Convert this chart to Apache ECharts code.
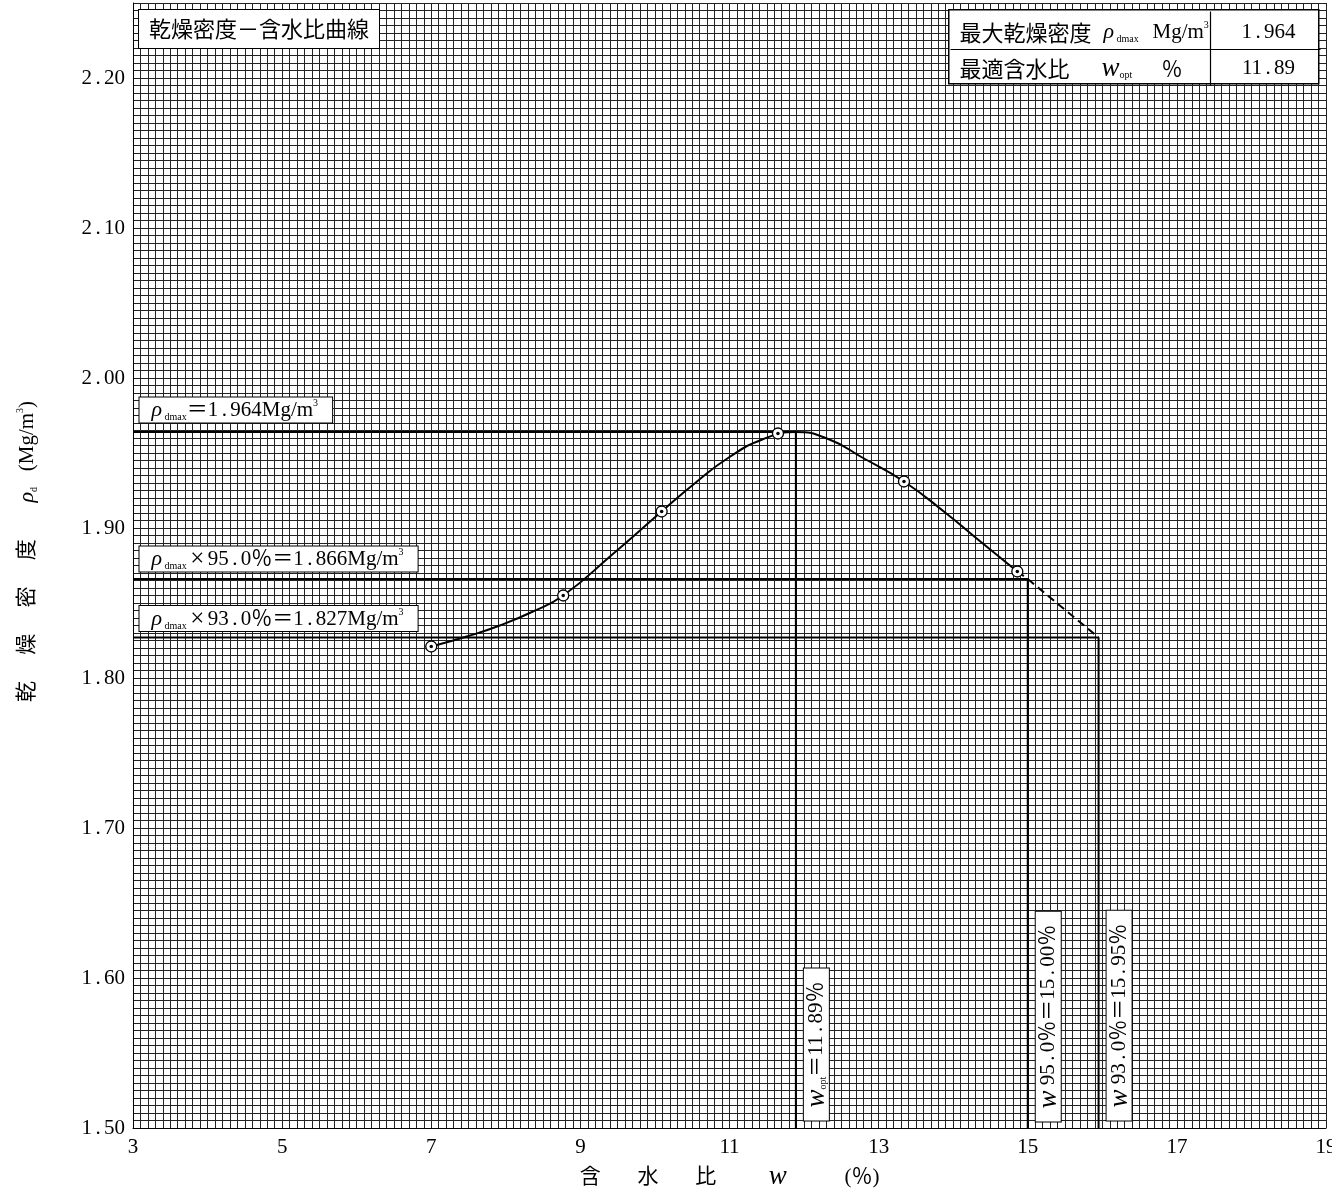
<!DOCTYPE html>
<html>
<head>
<meta charset="utf-8">
<script src="https://cdn.jsdelivr.net/npm/echarts@6/dist/echarts.min.js"></script>
<style>
html,body{margin:0;padding:0;background:#fff;}
#chart{width:1332px;height:1192px;}
</style>
</head>
<body>
<div id="chart"></div>
<script>
// ---- axis ticks ----
const xTicks = [3, 5, 7, 9, 11, 13, 15, 17, 19];
const yTicks = [1.50, 1.60, 1.70, 1.80, 1.90, 2.00, 2.10, 2.20];
const yTop = 2.25;
const xGridStep = 0.1;
const yGridStep = 0.005;

// ---- compaction test points ----
const testW   = [7.00, 8.77, 10.09, 11.65, 13.34, 14.86];
const testRho = [1.821, 1.855, 1.911, 1.963, 1.931, 1.871];

// ---- fitted curve ----
const curveW   = [7.00, 7.50, 7.92, 8.35, 8.77, 9.42, 10.09, 10.54, 10.99, 11.44, 11.89, 12.34, 12.78, 13.34, 13.90, 14.34, 14.86];
const curveRho = [1.821, 1.828, 1.835, 1.844, 1.855, 1.882, 1.911, 1.930, 1.947, 1.959, 1.964, 1.959, 1.947, 1.931, 1.910, 1.892, 1.871];

// ---- dashed extension ----
const extW   = [14.86, 15.00, 15.95];
const extRho = [1.871, 1.866, 1.827];

// ---- results ----
const rhoDmax = 1.964;
const wOpt = 11.89;
const pctA = 95.0, rhoA = 1.866, wA = 15.00;
const pctB = 93.0, rhoB = 1.827, wB = 15.95;

const xMin = xTicks[0], xMax = xTicks[xTicks.length - 1];
const yMin = yTicks[0];

const SERIF = "'Liberation Serif','Noto Sans CJK JP',serif";
const CJK = "'Noto Sans CJK JP','Liberation Serif',sans-serif";

function num(v, d) {
  const s = v.toFixed(d).split('.');
  return s[0] + '{p|.}' + s[1];
}

const RICH = {
  c: {fontFamily: SERIF, fontSize: 21, lineHeight: 24, color: '#000'},
  r: {fontFamily: SERIF, fontStyle: 'italic', fontSize: 22, lineHeight: 24, color: '#000'},
  s: {fontFamily: SERIF, fontSize: 10, lineHeight: 16, verticalAlign: 'bottom', color: '#000'},
  u: {fontFamily: SERIF, fontSize: 10, lineHeight: 14, verticalAlign: 'top', color: '#000'},
  p: {fontFamily: SERIF, fontSize: 21, lineHeight: 24, width: 12, align: 'center', color: '#000'},
  x: {fontFamily: SERIF, fontSize: 25, lineHeight: 24, width: 21, align: 'center', color: '#000'},
  w: {fontFamily: SERIF, fontStyle: 'italic', fontSize: 27, lineHeight: 24, color: '#000'}
};

function annot(pt, text, pos, rotate) {
  return {
    type: 'scatter', data: [pt], symbolSize: 1, silent: true, z: 10,
    itemStyle: {color: 'rgba(0,0,0,0)', opacity: 1},
    emphasis: {disabled: true},
    label: {
      show: true, formatter: text, position: pos, rotate: rotate || 0,
      align: 'left', verticalAlign: rotate ? 'middle' : 'bottom',
      fontFamily: SERIF, fontSize: 21, lineHeight: 24, color: '#000', opacity: 1,
      backgroundColor: '#fff', borderColor: '#000', borderWidth: 1,
      padding: rotate ? [1, 13, 0, 13] : [1, 14, 0, 12], rich: RICH
    }
  };
}

function refPath(w, rho) { return [[xMin, rho], [w, rho], [w, yMin]]; }

const chart = echarts.init(document.getElementById('chart'), null, {renderer: 'canvas', devicePixelRatio: 1});

const gridLine = {show: true, lineStyle: {color: '#222', width: 1}};

const Z = 100;
const option = {
  animation: false,
  backgroundColor: '#fff',
  textStyle: {fontFamily: SERIF},
  grid: {left: 133, right: 6, top: 3, bottom: 64, containLabel: false, outerBoundsMode: 'none'},
  xAxis: [
    {
      type: 'value', min: xMin, max: xMax, interval: 2, position: 'bottom',
      axisLine: {show: true, onZero: false, lineStyle: {color: '#000', width: 1}},
      axisTick: {show: false}, splitLine: {show: false},
      axisLabel: {color: '#000', fontFamily: SERIF, fontSize: 21, margin: 9, showMinLabel: true, showMaxLabel: true},
      name: '含　   水　   比　　  {w|w}　　   (％)',
      nameLocation: 'middle', nameGap: 36, nameMoveOverlap: false,
      nameTextStyle: {color: '#000', fontFamily: SERIF, fontSize: 21, lineHeight: 26, rich: RICH}
    },
    {
      type: 'value', min: xMin, max: xMax, interval: xGridStep, position: 'top',
      axisLine: {show: false}, axisTick: {show: false}, axisLabel: {show: false},
      splitLine: gridLine
    }
  ],
  yAxis: [
    {
      type: 'value', min: yMin, max: yTop, interval: 0.1, position: 'left',
      axisLine: {show: true, onZero: false, lineStyle: {color: '#000', width: 1}},
      axisTick: {show: false}, splitLine: {show: false},
      axisLabel: {
        color: '#000', fontFamily: SERIF, fontSize: 21, margin: 8, showMaxLabel: false,
        formatter: function (v) {
          if (!yTicks.some(t => Math.abs(t - v) < 1e-6)) return '';
          return num(v, 2);
        },
        rich: {p: RICH.p}
      },
      name: '{c|乾　 燥　 密　 度}{c|　   }{r|ρ}{s|d}{c|   (Mg/m}{u|3}{c|)}',
      nameLocation: 'middle', nameRotate: 90, nameGap: 94, nameMoveOverlap: false,
      nameTextStyle: {color: '#000', fontFamily: SERIF, fontSize: 21, lineHeight: 24, padding: [0, 0, 0, 28], rich: RICH}
    },
    {
      type: 'value', min: yMin, max: yTop, interval: yGridStep, position: 'right',
      axisLine: {show: false}, axisTick: {show: false}, axisLabel: {show: false},
      splitLine: gridLine
    }
  ],
  series: [
    {type: 'line', data: refPath(wOpt, rhoDmax), symbol: 'none', silent: true, z: 3, lineStyle: {color: '#000', width: 2}},
    {type: 'line', data: refPath(wA, rhoA), symbol: 'none', silent: true, z: 3, lineStyle: {color: '#000', width: 2}},
    {type: 'line', data: refPath(wB, rhoB), symbol: 'none', silent: true, z: 3, lineStyle: {color: '#000', width: 2}},
    {type: 'line', data: curveW.map((w, i) => [w, curveRho[i]]), smooth: 0.5, symbol: 'none', silent: true, z: 4,
      lineStyle: {color: '#000', width: 2}},
    {type: 'line', data: extW.map((w, i) => [w, extRho[i]]), symbol: 'none', silent: true, z: 4,
      lineStyle: {color: '#000', width: 2, type: [8, 5]}},
    {type: 'scatter', data: testW.map((w, i) => [w, testRho[i]]), symbol: 'circle', symbolSize: 11, silent: true, z: 5,
      emphasis: {disabled: true},
      itemStyle: {color: '#fff', borderColor: '#000', borderWidth: 1.3, opacity: 1}},
    {type: 'scatter', data: testW.map((w, i) => [w, testRho[i]]), symbol: 'circle', symbolSize: 3.5, silent: true, z: 6,
      emphasis: {disabled: true},
      itemStyle: {color: '#000', opacity: 1}},
    annot([xMin, rhoDmax], '{r|ρ}{s| dmax}＝' + num(rhoDmax, 3) + 'Mg/m{u|3}', [7, -9]),
    annot([xMin, rhoA], '{r|ρ}{s| dmax}{x|×}' + num(pctA, 1) + '％＝' + num(rhoA, 3) + 'Mg/m{u|3}', [7, -7]),
    annot([xMin, rhoB], '{r|ρ}{s| dmax}{x|×}' + num(pctB, 1) + '％＝' + num(rhoB, 3) + 'Mg/m{u|3}', [7, -6]),
    annot([wOpt, yMin], '{w|w}{s|opt}＝' + num(wOpt, 2) + '％', [21, -7], 90),
    annot([wA, yMin], '{w|w} ' + num(pctA, 1) + '％＝' + num(wA, 2) + '％', [21, -6], 90),
    annot([wB, yMin], '{w|w} ' + num(pctB, 1) + '％＝' + num(wB, 2) + '％', [21, -7], 90)
  ],
  graphic: [
    {
      type: 'text', left: 138, top: 9, z: Z,
      style: {
        text: '乾燥密度－含水比曲線',
        fontFamily: CJK, fontSize: 22, lineHeight: 24,
        fill: '#000', backgroundColor: '#fff', borderColor: '#000', borderWidth: 1,
        padding: [7, 10, 7, 10]
      }
    },
    {type: 'rect', left: 948, top: 9, z: Z, shape: {width: 370, height: 74}, style: {fill: '#fff', stroke: '#000', lineWidth: 1.5}},
    {type: 'group', left: 948, top: 9, z: Z + 1, width: 370, height: 74,
      children: [
        {type: 'line', z: Z + 1, shape: {x1: 0, y1: 38, x2: 370, y2: 38}, style: {stroke: '#000', lineWidth: 1.2}},
        {type: 'line', z: Z + 1, shape: {x1: 260, y1: 0, x2: 260, y2: 74}, style: {stroke: '#000', lineWidth: 1.2}},
        {type: 'text', z: Z + 2, x: 9, y: 21, style: {text: '最大乾燥密度', fontFamily: CJK, fontSize: 22, fill: '#000', verticalAlign: 'middle', textVerticalAlign: 'middle'}},
        {type: 'text', z: Z + 2, x: 153, y: 21, style: {text: '{r|ρ}{s| dmax}', fill: '#000', verticalAlign: 'middle', textVerticalAlign: 'middle', rich: RICH}},
        {type: 'text', z: Z + 2, x: 202, y: 21, style: {text: '{c|Mg/m}{u|3}', fill: '#000', verticalAlign: 'middle', textVerticalAlign: 'middle', rich: RICH}},
        {type: 'text', z: Z + 2, x: 318, y: 21, style: {text: '{c|' + rhoDmax.toFixed(3).split('.')[0] + '}{p|.}{c|' + rhoDmax.toFixed(3).split('.')[1] + '}', fill: '#000', align: 'center', textAlign: 'center', verticalAlign: 'middle', textVerticalAlign: 'middle', rich: RICH}},
        {type: 'text', z: Z + 2, x: 9, y: 57, style: {text: '最適含水比', fontFamily: CJK, fontSize: 22, fill: '#000', verticalAlign: 'middle', textVerticalAlign: 'middle'}},
        {type: 'text', z: Z + 2, x: 151, y: 57, style: {text: '{w|w}{s|opt}', fill: '#000', verticalAlign: 'middle', textVerticalAlign: 'middle', rich: RICH}},
        {type: 'text', z: Z + 2, x: 211, y: 57, style: {text: '％', fontFamily: CJK, fontSize: 21, fill: '#000', verticalAlign: 'middle', textVerticalAlign: 'middle'}},
        {type: 'text', z: Z + 2, x: 318, y: 57, style: {text: '{c|' + wOpt.toFixed(2).split('.')[0] + '}{p|.}{c|' + wOpt.toFixed(2).split('.')[1] + '}', fill: '#000', align: 'center', textAlign: 'center', verticalAlign: 'middle', textVerticalAlign: 'middle', rich: RICH}}
      ]
    }
  ]
};

chart.setOption(option);
</script>
</body>
</html>
